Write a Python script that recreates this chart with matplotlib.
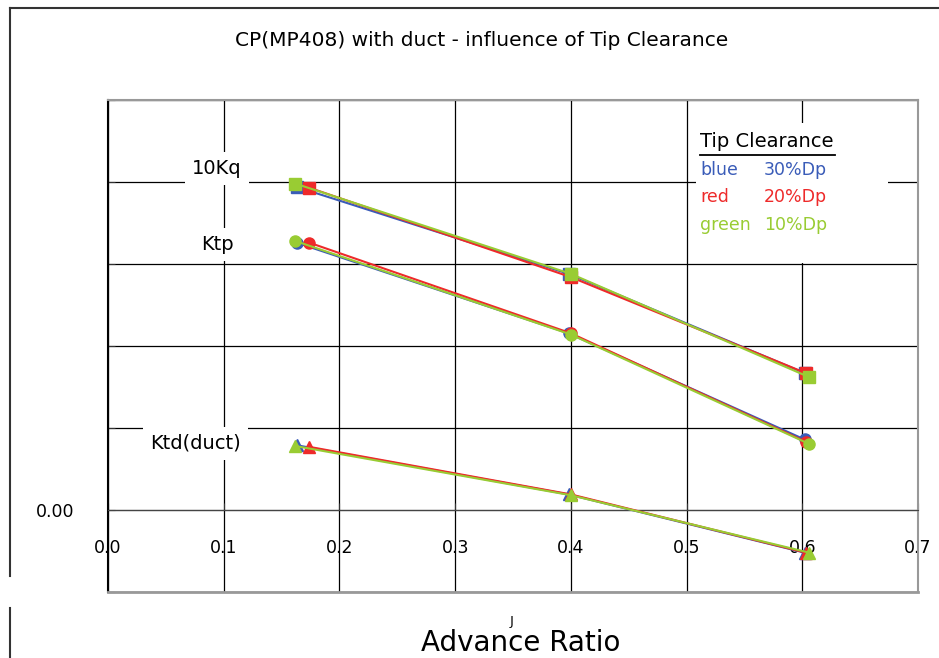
import matplotlib
matplotlib.use('Agg')
import matplotlib.pyplot as plt
from matplotlib.lines import Line2D
from matplotlib.patches import Rectangle

plt.rcParams['font.family'] = ['DejaVu Sans']

# Dados (J = advance ratio)
j_azul = [0.163, 0.398, 0.602]
j_verm = [0.174, 0.400, 0.603]
j_verde = [0.162, 0.400, 0.606]

kq10_azul = [0.394, 0.288, 0.167]
kq10_verm = [0.393, 0.284, 0.167]
kq10_verde = [0.398, 0.288, 0.162]

ktp_azul = [0.326, 0.2155, 0.086]
ktp_verm = [0.326, 0.2155, 0.0833]
ktp_verde = [0.328, 0.214, 0.0805]

ktd_azul = [0.079, 0.019, -0.052]
ktd_verm = [0.077, 0.019, -0.052]
ktd_verde = [0.078, 0.018, -0.052]

xticks = [0.0, 0.1, 0.2, 0.3, 0.4, 0.5, 0.6, 0.7]
yticks = [-0.1, 0.0, 0.1, 0.2, 0.3, 0.4, 0.5]

azul = '#3a5cb8'
verm = '#ee2a2a'
verde = '#99cc33'
fs = 12.5

fig = plt.figure(figsize=(9.39, 6.58), dpi=100)
ax = fig.add_axes([108/939, 1-592/658, 810/939, 492/658])
ax.set_xlim(0, 0.7)
ax.set_ylim(-0.1, 0.5)

ax.spines['bottom'].set_position(('data', 0))
ax.spines['bottom'].set_color('#444444')
ax.spines['left'].set_color('black')
ax.spines['top'].set_color('#999999')
ax.spines['right'].set_color('#999999')
for s in ['top', 'right', 'left']:
    ax.spines[s].set_linewidth(1.5)
ax.axhline(-0.1, color='#999999', lw=2, clip_on=False, zorder=3)

# grade
ax.set_xticks(xticks)
ax.set_xticklabels(['%.1f' % v for v in xticks], fontsize=fs)
ax.set_yticks(yticks)
ax.set_yticklabels(['0.00' if v == 0 else '' for v in yticks], fontsize=fs)
ax.grid(True, color='black', lw=0.9)
ax.set_axisbelow(True)
ax.tick_params(axis='x', direction='in', length=5, pad=21, color='#333333')
ax.tick_params(axis='y', direction='in', length=5, pad=24, color='#333333')

# curvas
series = [
    (j_azul, kq10_azul, ktp_azul, ktd_azul, azul),
    (j_verm, kq10_verm, ktp_verm, ktd_verm, verm),
    (j_verde, kq10_verde, ktp_verde, ktd_verde, verde),
]
for j, kq, ktp, ktd, c in series:
    ax.plot(j, kq, '-s', color=c, lw=1.5, ms=8, zorder=4)
    ax.plot(j, ktp, '-o', color=c, lw=1.5, ms=8, zorder=4)
    ax.plot(j, ktd, '-^', color=c, lw=1.5, ms=9, zorder=4)

# rotulos das curvas
ax.text(0.0943, 0.417, '10Kq', fontsize=14, ha='center', va='center',
        bbox=dict(fc='white', ec='none', pad=5), zorder=3)
ax.text(0.0943, 0.324, 'Ktp', fontsize=14, ha='center', va='center',
        bbox=dict(fc='white', ec='none', pad=5), zorder=3)
ax.text(0.0753, 0.0817, 'Ktd(duct)', fontsize=14, ha='center', va='center',
        bbox=dict(fc='white', ec='none', pad=5), zorder=3)

# legenda
ax.add_patch(Rectangle((0.5078, 0.3015), 0.1661, 0.1707, fc='white', ec='none', zorder=2))
ax.text(0.512, 0.449, 'Tip Clearance', fontsize=14, ha='left', va='center', zorder=3)
ax.plot([0.512, 0.6285], [0.433, 0.433], color='black', lw=1.3, zorder=3)
ax.text(0.512, 0.415, 'blue', color=azul, fontsize=fs, va='center', zorder=3)
ax.text(0.5666, 0.415, '30%Dp', color=azul, fontsize=fs, va='center', zorder=3)
ax.text(0.512, 0.382, 'red', color=verm, fontsize=fs, va='center', zorder=3)
ax.text(0.5666, 0.382, '20%Dp', color=verm, fontsize=fs, va='center', zorder=3)
ax.text(0.512, 0.348, 'green', color=verde, fontsize=fs, va='center', zorder=3)
ax.text(0.5666, 0.348, '10%Dp', color=verde, fontsize=fs, va='center', zorder=3)

# titulo e eixo
fig.text(482/939, 1-40/658, 'CP(MP408) with duct - influence of Tip Clearance',
         fontsize=14.5, ha='center', va='center')
fig.text(512/939, 1-622/658, 'J', fontsize=9.5, ha='center', va='center')
fig.text(521/939, 1-657/658, 'Advance Ratio', fontsize=20, ha='center',
         va='bottom')

# moldura externa
fig.add_artist(Line2D([10/939, 1], [1-8/658, 1-8/658], color='#333333', lw=1.5))
fig.add_artist(Line2D([10/939, 10/939], [1-8/658, 1-576/658], color='#333333', lw=1.5))
fig.add_artist(Line2D([10/939, 10/939], [1-608/658, 0], color='#333333', lw=1.5))

fig.savefig('out.png', dpi=100)
